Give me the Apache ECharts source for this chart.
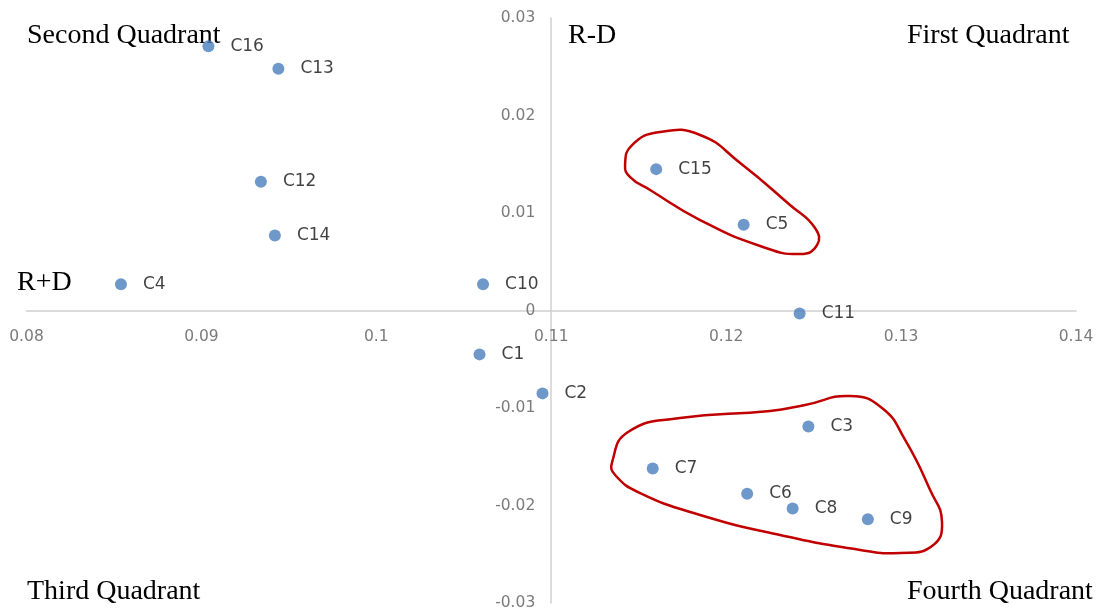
<!DOCTYPE html>
<html>
<head>
<meta charset="utf-8">
<script src="https://cdn.jsdelivr.net/npm/echarts@6/dist/echarts.min.js"></script>
<style>
html,body{margin:0;padding:0;background:#fff;}
#c{width:1099px;height:611px;}
</style>
</head>
<body>
<div id="c"></div>
<script>
// ---- data ----
var names = ['C16','C13','C12','C14','C4','C10','C1','C2','C15','C5','C11','C3','C7','C6','C8','C9'];
var xValues = [0.0904,0.0944,0.0934,0.0942,0.0854,0.1061,0.1059,0.1095,0.1160,0.1210,0.1242,0.1247,0.1158,0.1212,0.1238,0.1281];
var yValues = [0.0271,0.0248,0.0132,0.0077,0.0027,0.0027,-0.0045,-0.0085,0.0145,0.0088,-0.0003,-0.0119,-0.0162,-0.0188,-0.0203,-0.0214];
var xTicks = [0.08,0.09,0.1,0.11,0.12,0.13,0.14];
var yTicks = [-0.03,-0.02,-0.01,0,0.01,0.02,0.03];
var quadrantLabels = ['Second Quadrant','R-D','First Quadrant','R+D','Third Quadrant','Fourth Quadrant'];
// annotation outlines (data coordinates)
var outline1X = [0.11422,0.11462,0.11622,0.11851,0.12080,0.12365,0.12508,0.12520,0.12423,0.12194,0.11851,0.11565,0.11451];
var outline1Y = [0.01492,0.01697,0.01831,0.01800,0.01513,0.01082,0.00846,0.00672,0.00579,0.00662,0.00928,0.01236,0.01369];
var outline2X = [0.11348,0.11439,0.11736,0.12251,0.12451,0.12708,0.12891,0.13023,0.13166,0.13234,0.13177,0.12994,0.12766,0.12308,0.11851,0.11508,0.11365];
var outline2Y = [-0.01554,-0.01246,-0.01103,-0.01031,-0.00969,-0.00877,-0.0100,-0.01328,-0.01841,-0.02169,-0.02415,-0.02487,-0.02456,-0.02303,-0.02097,-0.01872,-0.01687];

var points = names.map(function(n,i){ return {name:n, value:[xValues[i], yValues[i]]}; });

var G = {left:26.5, right:23, top:18, bottom:8};
var W = 1099, H = 611;
var gridW = W - G.left - G.right;
var gridH = H - G.top - G.bottom;
var crossX = 0.11, crossY = 0;
var xMin = xTicks[0], xMax = xTicks[xTicks.length-1];
var yMin = yTicks[0], yMax = yTicks[yTicks.length-1];
var yOffset = -gridW * (crossX - xMin) / (xMax - xMin);
var xOffset = -gridH * (crossY - yMin) / (yMax - yMin);

var serif = '"Liberation Serif","Times New Roman",serif';
function qText(id, txt, x, y){
  return {type:'text', id:id, x:x, y:y, style:{text:txt, font:'28px '+serif, fill:'#000', textVerticalAlign:'middle'}};
}
function fmt(v){ return String(+v.toFixed(2)); }

var chart = echarts.init(document.getElementById('c'), null, {renderer:'canvas'});
chart.setOption({
  animation:false,
  backgroundColor:'#fff',
  grid:{left:G.left, right:G.right, top:G.top, bottom:G.bottom, containLabel:false, outerBoundsMode:'none'},
  xAxis:{
    type:'value', min:xMin, max:xMax, interval:0.01,
    position:'bottom', offset:xOffset,
    axisLine:{show:true, onZero:false, lineStyle:{color:'#cfcfcf', width:1.5}},
    axisTick:{show:false},
    splitLine:{show:false},
    axisLabel:{margin:18, color:'#7b7b7b', fontSize:15.5, fontFamily:'"DejaVu Sans",sans-serif', formatter:fmt}
  },
  yAxis:{
    type:'value', min:yMin, max:yMax, interval:0.01,
    position:'left', offset:yOffset,
    axisLine:{show:true, onZero:false, lineStyle:{color:'#cfcfcf', width:1.5}},
    axisTick:{show:false},
    splitLine:{show:false},
    axisLabel:{margin:16, color:'#7b7b7b', fontSize:15.5, fontFamily:'"DejaVu Sans",sans-serif', formatter:fmt}
  },
  series:[{
    type:'scatter',
    data:points,
    symbolSize:12,
    itemStyle:{color:'#4a7ebb'},
    label:{show:true, position:'right', distance:16, formatter:'{b}',
      color:'#111', fontSize:17, fontFamily:'"DejaVu Sans",sans-serif'}
  }],
  graphic:[
    qText('q2', quadrantLabels[0], 27, 36),
    qText('rd', quadrantLabels[1], 568, 36),
    qText('q1', quadrantLabels[2], 907, 36),
    qText('rpd', quadrantLabels[3], 17, 283),
    qText('q3', quadrantLabels[4], 27, 592),
    qText('q4', quadrantLabels[5], 907, 592)
  ]
});

function toPx(xs, ys){
  return xs.map(function(x,i){ return chart.convertToPixel({gridIndex:0}, [x, ys[i]]); });
}
chart.setOption({
  graphic:[
    {type:'polygon', id:'o1', shape:{points:toPx(outline1X, outline1Y), smooth:0.5},
      style:{fill:'none', stroke:'#c00000', lineWidth:2.5}},
    {type:'polygon', id:'o2', shape:{points:toPx(outline2X, outline2Y), smooth:0.5},
      style:{fill:'none', stroke:'#c00000', lineWidth:2.5}}
  ]
});
</script>
</body>
</html>
